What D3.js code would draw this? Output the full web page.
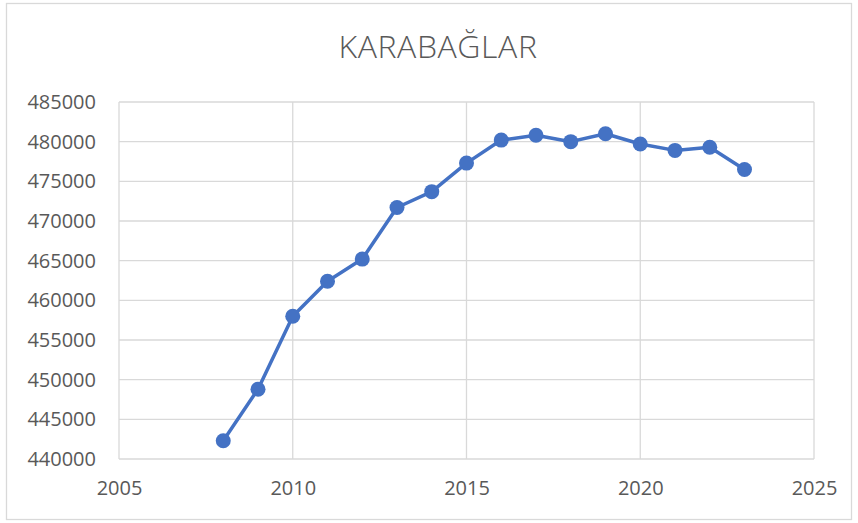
<!DOCTYPE html>
<html>
<head>
<meta charset="utf-8">
<script src="https://cdn.jsdelivr.net/npm/d3@7"></script>
<style>
  body { margin: 0; background: #fff; }
  text { font-family: "Open Sans", "Liberation Sans", sans-serif; fill: #595959; }
</style>
</head>
<body>
<svg id="chart" width="858" height="523"></svg>
<script>
// data
var years = [2008, 2009, 2010, 2011, 2012, 2013, 2014, 2015, 2016, 2017, 2018, 2019, 2020, 2021, 2022, 2023];
var population = [442300, 448800, 458000, 462400, 465200, 471700, 473700, 477300, 480200, 480800, 480000, 481000, 479700, 478900, 479300, 476500];
var xTicks = [2005, 2010, 2015, 2020, 2025];
var yTicks = [440000, 445000, 450000, 455000, 460000, 465000, 470000, 475000, 480000, 485000];
var title = "KARABAĞLAR";

var svg = d3.select("#chart"),
    margin = { top: 102, right: 44, bottom: 64, left: 119 },
    width = +svg.attr("width") - margin.left - margin.right,
    height = +svg.attr("height") - margin.top - margin.bottom;

// outer chart border
svg.append("rect")
    .attr("x", 6.5).attr("y", 3.5)
    .attr("width", 845).attr("height", 516)
    .attr("fill", "#fff")
    .attr("stroke", "#d9d9d9")
    .attr("stroke-width", 1.3);

svg.append("text")
    .attr("x", 438)
    .attr("y", 58)
    .attr("text-anchor", "middle")
    .style("font-size", "32px")
    .style("font-weight", 300)
    .style("letter-spacing", "0.6px")
    .text(title);

var x = d3.scaleLinear().domain([2005, 2025]).range([0, width]),
    y = d3.scaleLinear().domain([440000, 485000]).range([height, 0]);

var g = svg.append("g")
    .attr("transform", "translate(" + margin.left + "," + margin.top + ")");

// gridlines
g.append("g")
    .selectAll("line.h")
    .data(yTicks)
    .enter().append("line")
    .attr("x1", 0).attr("x2", width)
    .attr("y1", function(d) { return y(d); })
    .attr("y2", function(d) { return y(d); })
    .attr("stroke", "#d9d9d9")
    .attr("stroke-width", 1.3);

g.append("g")
    .selectAll("line.v")
    .data(xTicks)
    .enter().append("line")
    .attr("y1", 0).attr("y2", height)
    .attr("x1", function(d) { return x(d); })
    .attr("x2", function(d) { return x(d); })
    .attr("stroke", "#d9d9d9")
    .attr("stroke-width", 1.3);

// axes, labels only
var yAxis = g.append("g")
    .call(d3.axisLeft(y).tickValues(yTicks).tickSize(0).tickPadding(23).tickFormat(d3.format("d")));
yAxis.select(".domain").remove();
yAxis.selectAll("text").style("font-size", "20px").attr("fill", "#595959");

var xAxis = g.append("g")
    .attr("transform", "translate(0," + height + ")")
    .call(d3.axisBottom(x).tickValues(xTicks).tickSize(0).tickPadding(22).tickFormat(d3.format("d")));
xAxis.select(".domain").remove();
xAxis.selectAll("text").style("font-size", "20px").attr("fill", "#595959");

var series = years.map(function(d, i) { return { year: d, value: population[i] }; });

g.append("path")
    .datum(series)
    .attr("fill", "none")
    .attr("stroke", "#4472C4")
    .attr("stroke-width", 3.5)
    .attr("stroke-linejoin", "round")
    .attr("d", d3.line()
        .x(function(d) { return x(d.year); })
        .y(function(d) { return y(d.value); }));

g.selectAll(".dot")
    .data(series)
    .enter().append("circle")
    .attr("class", "dot")
    .attr("cx", function(d) { return x(d.year); })
    .attr("cy", function(d) { return y(d.value); })
    .attr("r", 7.5)
    .attr("fill", "#4472C4");
</script>
</body>
</html>
